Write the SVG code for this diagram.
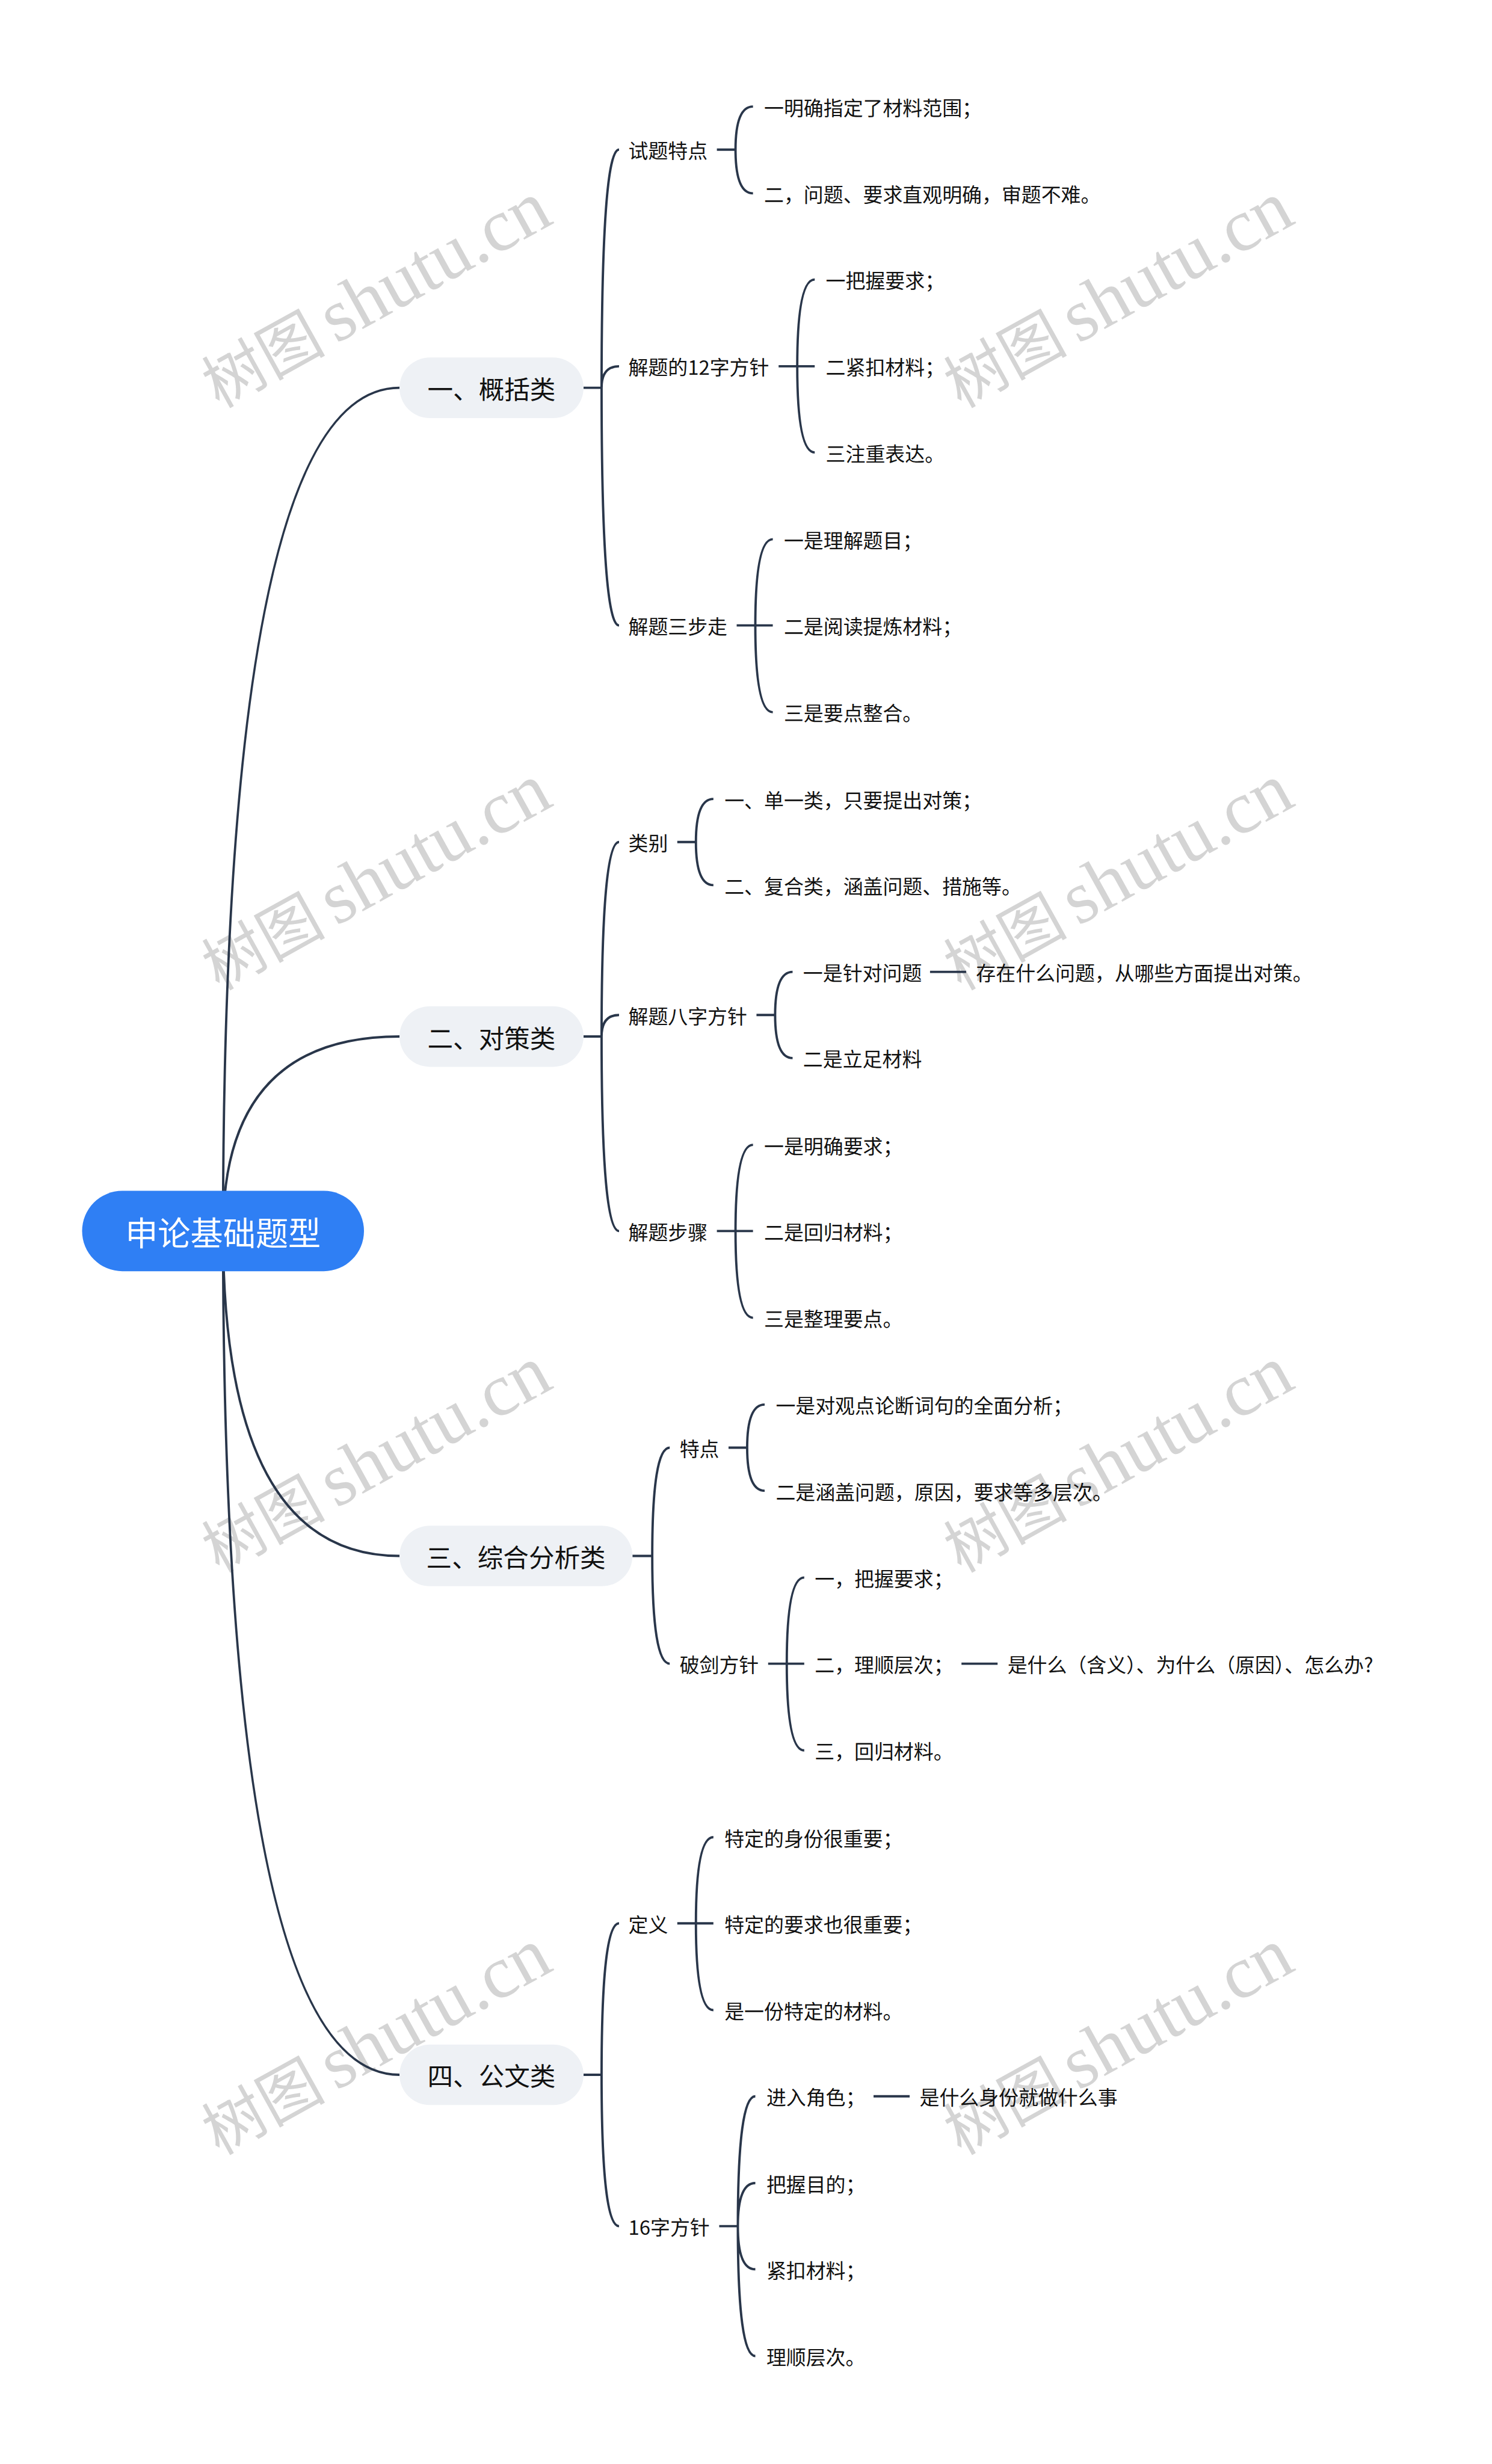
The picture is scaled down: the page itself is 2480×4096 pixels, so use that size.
<svg xmlns="http://www.w3.org/2000/svg" xmlns:xlink="http://www.w3.org/1999/xlink" width="2480" height="4096" viewBox="0 0 2480 4096">
<style>
.c{fill:none;stroke:#29364a;stroke-width:4}
.t{font-family:"Noto Sans CJK SC","Liberation Sans",sans-serif;font-size:34px;fill:#111111;dominant-baseline:central}
.p{fill:#eef1f5}
.l1{font-family:"Noto Sans CJK SC","Liberation Sans",sans-serif;font-size:44px;fill:#111111;text-anchor:middle;dominant-baseline:central}
.root{font-family:"Noto Sans CJK SC","Liberation Sans",sans-serif;font-size:56px;fill:#ffffff;text-anchor:middle;dominant-baseline:central}
.wm{fill:#d4d4d4}
.wmc{font-family:"Noto Sans CJK SC",serif;font-size:106px}
.wml{font-family:"Liberation Serif",serif;font-size:128px}
</style>
<defs>
<text id="wm" class="wm" transform="rotate(-29)"><tspan class="wmc">树图</tspan><tspan class="wml" dx="18">shutu.cn</tspan></text>
</defs>
<rect width="2480" height="4096" fill="#ffffff"/>
<g transform="scale(0.968)">
<g id="watermarks">
<use xlink:href="#wm" transform="translate(376,702)"/>
<use xlink:href="#wm" transform="translate(1650,702)"/>
<use xlink:href="#wm" transform="translate(376,1702)"/>
<use xlink:href="#wm" transform="translate(1650,1702)"/>
<use xlink:href="#wm" transform="translate(376,2702)"/>
<use xlink:href="#wm" transform="translate(1650,2702)"/>
<use xlink:href="#wm" transform="translate(376,3702)"/>
<use xlink:href="#wm" transform="translate(1650,3702)"/>
</g>
<g id="connectors">
<path class="c" d="M383,2114 Q383,666 686,666"/>
<path class="c" d="M383,2114 Q383,1780 686,1780"/>
<path class="c" d="M383,2114 Q383,2672 686,2672"/>
<path class="c" d="M383,2114 Q383,3563 686,3563"/>
<path class="c" d="M1002,666 H1033 M1033,666 Q1033,257 1063,257 M1033,666 Q1033,629 1063,629 M1033,666 Q1033,1074 1063,1074"/>
<path class="c" d="M1002,1780 H1033 M1033,1780 Q1033,1446 1063,1446 M1033,1780 Q1033,1743 1063,1743 M1033,1780 Q1033,2114 1063,2114"/>
<path class="c" d="M1086,2672 H1120 M1120,2672 Q1120,2486 1150,2486 M1120,2672 Q1120,2857 1150,2857"/>
<path class="c" d="M1002,3563 H1033 M1033,3563 Q1033,3303 1063,3303 M1033,3563 Q1033,3823 1063,3823"/>
<path class="c" d="M1231,257 H1263 M1263,257 Q1263,183 1293,183 M1263,257 Q1263,332 1293,332"/>
<path class="c" d="M1337,629 H1369 M1369,629 Q1369,480 1399,480 M1369,629 H1399 M1369,629 Q1369,777 1399,777"/>
<path class="c" d="M1265,1074 H1297 M1297,1074 Q1297,926 1327,926 M1297,1074 H1327 M1297,1074 Q1297,1223 1327,1223"/>
<path class="c" d="M1163,1446 H1195 M1195,1446 Q1195,1372 1225,1372 M1195,1446 Q1195,1520 1225,1520"/>
<path class="c" d="M1299,1743 H1331 M1331,1743 Q1331,1669 1361,1669 M1331,1743 Q1331,1817 1361,1817"/>
<path class="c" d="M1597,1669 H1659"/>
<path class="c" d="M1231,2114 H1263 M1263,2114 Q1263,1966 1293,1966 M1263,2114 H1293 M1263,2114 Q1263,2263 1293,2263"/>
<path class="c" d="M1251,2486 H1283 M1283,2486 Q1283,2412 1313,2412 M1283,2486 Q1283,2560 1313,2560"/>
<path class="c" d="M1319,2857 H1351 M1351,2857 Q1351,2709 1381,2709 M1351,2857 H1381 M1351,2857 Q1351,3006 1381,3006"/>
<path class="c" d="M1651,2857 H1713"/>
<path class="c" d="M1163,3303 H1195 M1195,3303 Q1195,3155 1225,3155 M1195,3303 H1225 M1195,3303 Q1195,3452 1225,3452"/>
<path class="c" d="M1235,3823 H1267 M1267,3823 Q1267,3600 1297,3600 M1267,3823 Q1267,3749 1297,3749 M1267,3823 Q1267,3897 1297,3897 M1267,3823 Q1267,4046 1297,4046"/>
<path class="c" d="M1500,3600 H1562"/>
</g>
<g id="root"><rect x="141" y="2045" width="484" height="138" rx="69" fill="#2f7ff4"/><text class="root" x="383" y="2114">申论基础题型</text></g>
<g id="b1"><rect class="p" x="686" y="614" width="316" height="104" rx="52"/><text class="l1" x="844" y="666">一、概括类</text></g>
<g id="b2"><rect class="p" x="686" y="1728" width="316" height="104" rx="52"/><text class="l1" x="844" y="1780">二、对策类</text></g>
<g id="b3"><rect class="p" x="686" y="2620" width="400" height="104" rx="52"/><text class="l1" x="886" y="2672">三、综合分析类</text></g>
<g id="b4"><rect class="p" x="686" y="3511" width="316" height="104" rx="52"/><text class="l1" x="844" y="3563">四、公文类</text></g>
<g id="n-b1-1"><text class="t" x="1079" y="257">试题特点</text></g>
<g id="n-b1-1-1"><text class="t" x="1312" y="183">一明确指定了材料范围；</text></g>
<g id="n-b1-1-2"><text class="t" x="1312" y="332">二，问题、要求直观明确，审题不难。</text></g>
<g id="n-b1-2"><text class="t" x="1079" y="629">解题的12字方针</text></g>
<g id="n-b1-2-1"><text class="t" x="1418" y="480">一把握要求；</text></g>
<g id="n-b1-2-2"><text class="t" x="1418" y="629">二紧扣材料；</text></g>
<g id="n-b1-2-3"><text class="t" x="1418" y="777">三注重表达。</text></g>
<g id="n-b1-3"><text class="t" x="1079" y="1074">解题三步走</text></g>
<g id="n-b1-3-1"><text class="t" x="1346" y="926">一是理解题目；</text></g>
<g id="n-b1-3-2"><text class="t" x="1346" y="1074">二是阅读提炼材料；</text></g>
<g id="n-b1-3-3"><text class="t" x="1346" y="1223">三是要点整合。</text></g>
<g id="n-b2-1"><text class="t" x="1079" y="1446">类别</text></g>
<g id="n-b2-1-1"><text class="t" x="1244" y="1372">一、单一类，只要提出对策；</text></g>
<g id="n-b2-1-2"><text class="t" x="1244" y="1520">二、复合类，涵盖问题、措施等。</text></g>
<g id="n-b2-2"><text class="t" x="1079" y="1743">解题八字方针</text></g>
<g id="n-b2-2-1"><text class="t" x="1379" y="1669">一是针对问题</text></g>
<g id="n-b2-2-1-1"><text class="t" x="1676" y="1669">存在什么问题，从哪些方面提出对策。</text></g>
<g id="n-b2-2-2"><text class="t" x="1379" y="1817">二是立足材料</text></g>
<g id="n-b2-3"><text class="t" x="1079" y="2114">解题步骤</text></g>
<g id="n-b2-3-1"><text class="t" x="1312" y="1966">一是明确要求；</text></g>
<g id="n-b2-3-2"><text class="t" x="1312" y="2114">二是回归材料；</text></g>
<g id="n-b2-3-3"><text class="t" x="1312" y="2263">三是整理要点。</text></g>
<g id="n-b3-1"><text class="t" x="1167" y="2486">特点</text></g>
<g id="n-b3-1-1"><text class="t" x="1332" y="2412">一是对观点论断词句的全面分析；</text></g>
<g id="n-b3-1-2"><text class="t" x="1332" y="2560">二是涵盖问题，原因，要求等多层次。</text></g>
<g id="n-b3-2"><text class="t" x="1167" y="2857">破剑方针</text></g>
<g id="n-b3-2-1"><text class="t" x="1399" y="2709">一，把握要求；</text></g>
<g id="n-b3-2-2"><text class="t" x="1399" y="2857">二，理顺层次；</text></g>
<g id="n-b3-2-2-1"><text class="t" x="1730" y="2857">是什么（含义）、为什么（原因）、怎么办?</text></g>
<g id="n-b3-2-3"><text class="t" x="1399" y="3006">三，回归材料。</text></g>
<g id="n-b4-1"><text class="t" x="1079" y="3303">定义</text></g>
<g id="n-b4-1-1"><text class="t" x="1244" y="3155">特定的身份很重要；</text></g>
<g id="n-b4-1-2"><text class="t" x="1244" y="3303">特定的要求也很重要；</text></g>
<g id="n-b4-1-3"><text class="t" x="1244" y="3452">是一份特定的材料。</text></g>
<g id="n-b4-2"><text class="t" x="1079" y="3823">16字方针</text></g>
<g id="n-b4-2-1"><text class="t" x="1316" y="3600">进入角色；</text></g>
<g id="n-b4-2-1-1"><text class="t" x="1579" y="3600">是什么身份就做什么事</text></g>
<g id="n-b4-2-2"><text class="t" x="1316" y="3749">把握目的；</text></g>
<g id="n-b4-2-3"><text class="t" x="1316" y="3897">紧扣材料；</text></g>
<g id="n-b4-2-4"><text class="t" x="1316" y="4046">理顺层次。</text></g>
</g>
</svg>
